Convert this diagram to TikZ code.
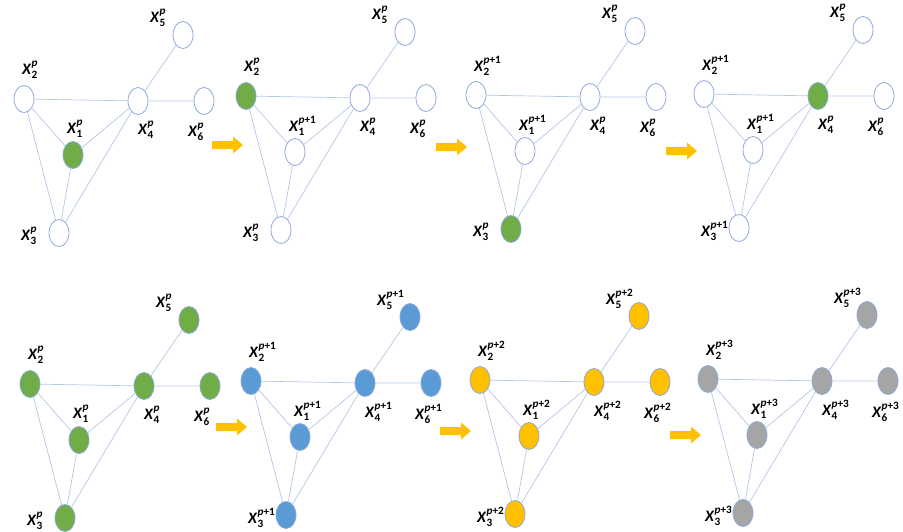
\documentclass[tikz,border=0pt]{standalone}
\usepackage{amsmath}
\usepackage{fontspec}
\setmainfont{Carlito}
\usetikzlibrary{shapes.geometric}
\definecolor{nodeline}{HTML}{8EA9DB}
\definecolor{edgeline}{HTML}{B4C7E7}
\definecolor{vgreen}{HTML}{70AD47}
\definecolor{vblue}{HTML}{5B9BD5}
\definecolor{vyellow}{HTML}{FFC000}
\definecolor{vgray}{HTML}{A5A5A5}
\definecolor{arrowfill}{HTML}{FFC000}
\newcommand{\xlab}[2]{$\textbf{\textit{X}}^{\textbf{\textit{p}#2}}_{\textbf{#1}}$}
\begin{document}
\begin{tikzpicture}[x=1pt, y=-1pt, font=\fontsize{16}{18}\selectfont,
	vert/.style={ellipse, draw=nodeline, line width=0.8pt, minimum width=20pt, minimum height=27pt, inner sep=0pt},
	link/.style={draw=edgeline, line width=0.7pt},
	lab/.style={anchor=west, inner sep=0pt}]
	\useasboundingbox (0,0) rectangle (903,531);
	% panel: number / x2 position / fills of x1..x6 / superscript suffixes of x1..x6
	\foreach \n/\ox/\oy/\fa/\fb/\fc/\fd/\fe/\ff/\sa/\sb/\sc/\sd/\se/\sf in {
		1/24/99/vgreen/white/white/white/white/white/{}/{}/{}/{}/{}/{},
		2/246/96/white/vgreen/white/white/white/white/+1/{}/{}/{}/{}/{},
		3/476/95/white/white/vgreen/white/white/white/+1/+1/{}/{}/{}/{},
		4/704/94/white/white/white/vgreen/white/white/+1/+1/+1/{}/{}/{},
		5/30/384/vgreen/vgreen/vgreen/vgreen/vgreen/vgreen/{}/{}/{}/{}/{}/{},
		6/251/381/vblue/vblue/vblue/vblue/vblue/vblue/+1/+1/+1/+1/+1/+1,
		7/480/380/vyellow/vyellow/vyellow/vyellow/vyellow/vyellow/+2/+2/+2/+2/+2/+2,
		8/708/379/vgray/vgray/vgray/vgray/vgray/vgray/+3/+3/+3/+3/+3/+3}{
		\node[vert, fill=\fa] (x1-\n) at (\ox+49,\oy+56) {};
		\node[vert, fill=\fb] (x2-\n) at (\ox,\oy) {};
		\node[vert, fill=\fc] (x3-\n) at (\ox+35,\oy+134) {};
		\node[vert, fill=\fd] (x4-\n) at (\ox+114,\oy+2) {};
		\node[vert, fill=\fe] (x5-\n) at (\ox+159,\oy-64) {};
		\node[vert, fill=\ff] (x6-\n) at (\ox+180,\oy+2) {};
		\draw[link] (x2-\n) -- (x4-\n) -- (x6-\n);
		\draw[link] (x4-\n) -- (x5-\n);
		\draw[link] (x2-\n) -- (x1-\n) -- (x4-\n) -- (x3-\n) -- (x1-\n);
		\draw[link] (x2-\n) -- (x3-\n);
		\node[lab] (l1-\n) at ([shift={(-6,-26)}]x1-\n) {\xlab{1}{\sa}};
		\node[lab] (l2-\n) at ([shift={(-2,-29)}]x2-\n) {\xlab{2}{\sb}};
		\node[lab] (l3-\n) at ([shift={(-38,3)}]x3-\n) {\xlab{3}{\sc}};
		\node[lab] (l4-\n) at ([shift={(0,29)}]x4-\n) {\xlab{4}{\sd}};
		\node[lab] (l5-\n) at ([shift={(-33,-17)}]x5-\n) {\xlab{5}{\se}};
		\node[lab] (l6-\n) at ([shift={(-16,31)}]x6-\n) {\xlab{6}{\sf}};
	}
	% block arrows between the panels
	\foreach \ax/\ay in {212/145, 436/147, 666/151, 216/427, 440/431, 670/435}
		\fill[arrowfill] (\ax,\ay-4) -- (\ax+21,\ay-4) -- (\ax+21,\ay-8.5) -- (\ax+31,\ay)
			-- (\ax+21,\ay+8.5) -- (\ax+21,\ay+4) -- (\ax,\ay+4) -- cycle;
\end{tikzpicture}
\end{document}
